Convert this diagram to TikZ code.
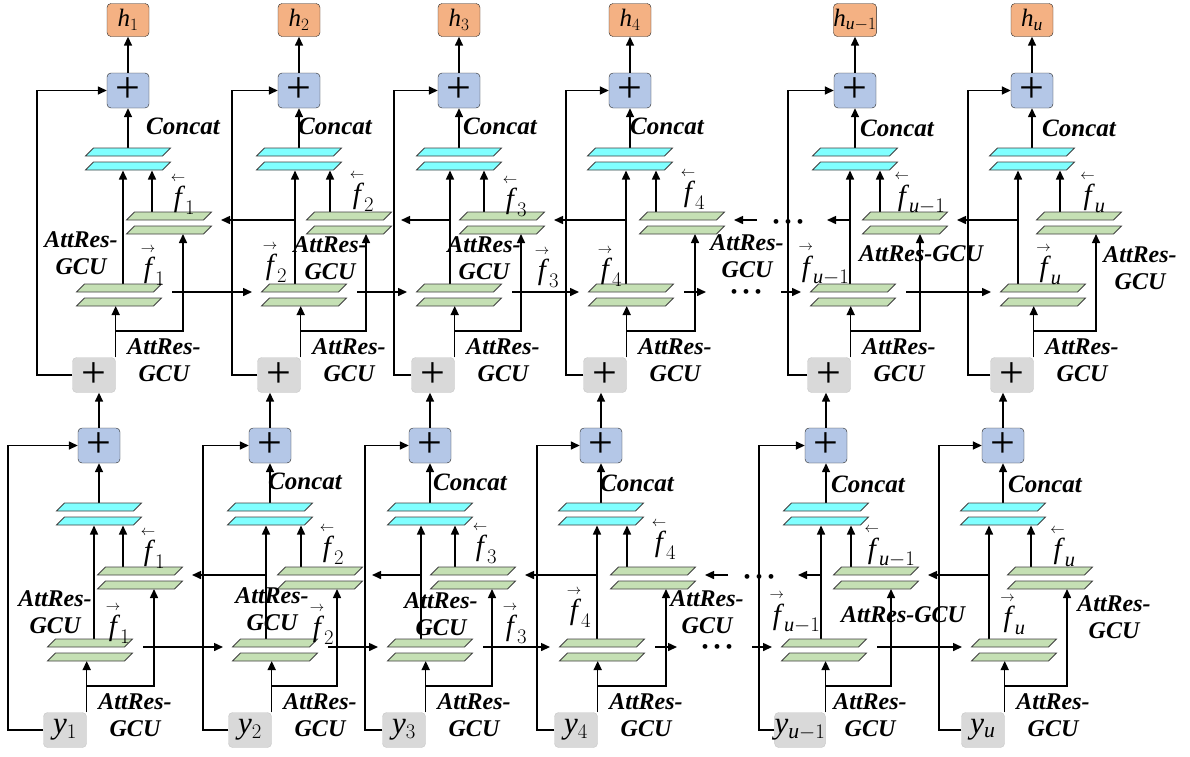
\documentclass[tikz,border=0pt]{standalone}
\usepackage{amsmath}
\usepackage{fontspec}
\setmainfont{Liberation Serif}
\usetikzlibrary{arrows.meta,calc}
\definecolor{addblue}{HTML}{B4C7E7}
\definecolor{outorange}{HTML}{F4B183}
\definecolor{ingray}{HTML}{D9D9D9}
\definecolor{plategreen}{HTML}{C5E0B4}
\definecolor{catcyan}{HTML}{80FFFF}
\tikzset{
  inbox/.style={draw=black!22,fill=ingray,rounded corners=4pt,minimum width=43pt,minimum height=35pt,inner sep=0pt},
  addbox/.style={draw=black!85,fill=addblue,rounded corners=4pt,minimum width=42pt,minimum height=35pt,inner sep=0pt},
  outbox/.style={draw=black!85,fill=outorange,rounded corners=4pt,minimum width=42pt,minimum height=33pt,inner sep=0pt},
  gplate/.style={draw=black!75,fill=plategreen,line width=0.8pt},
  cplate/.style={draw=black!75,fill=catcyan,line width=0.8pt},
  arr/.style={-{Triangle[length=9pt,width=8pt]},line width=1.5pt},
  gculab/.style={font=\fontsize{24}{27}\selectfont\bfseries\itshape,align=center,inner sep=0pt},
  catlab/.style={font=\fontsize{25}{25}\selectfont\bfseries\itshape,inner sep=0pt},
  flab/.style={font=\fontsize{29}{29}\selectfont,inner sep=0pt},
  dotrow/.style={font=\fontsize{20}{20}\selectfont,inner sep=0pt}
}
\newcommand{\plusfont}{\fontsize{44}{44}\selectfont}
\newcommand{\um}{\mathit{u}-1}
\newcommand{\uu}{\mathit{u}}
\newcommand{\fw}[1]{$\overset{\scriptscriptstyle\rightarrow}{\mathit{f}}_{#1}$}
\newcommand{\bw}[1]{$\overset{\scriptscriptstyle\leftarrow}{\mathit{f}}_{#1}$}
\newcommand{\ylab}[1]{{\fontsize{31}{31}\selectfont$\mathit{y}_{#1}$}}
\newcommand{\hlab}[1]{{\fontsize{25}{25}\selectfont$\mathit{h}_{#1}$}}
% one slab of a layer: style, centre
\newcommand{\slab}[2]{\draw[#1] ($(#2)+(-42.5,4)$) -- ++(77,0) -- ++(8,-8) -- ++(-77,0) -- cycle;}

\begin{document}
\begin{tikzpicture}[x=1pt,y=-1pt]
\useasboundingbox (0,0) rectangle (1190,756);

% two stacked Bi-AttRes-GCU layers
\foreach \row/\ddx/\ddy in {1/0/0,2/29/-355} {
  \foreach \col/\xin/\xp/\xf/\xb/\xfv/\xbv/\xbr/\xsk/\sb in {
      1/65/99/90/140/94/123/154/8/1,
      2/250/270/275/320/266/301/337/203/2,
      3/404/430/430/473/421/455/492/365/3,
      4/576/601/602/653/597/627/666/537/4,
      5/800/826/824/876/821/851/891/759/\um,
      6/983/1003/1014/1050/989/1031/1067/939/\uu} {
    \pgfmathsetmacro\yy{730+\ddy}
    \node[inbox] (in-\row-\col) at (\xin+\ddx,\yy) {\ifnum\row=1 \ylab{\sb}\else\plusfont +\fi};
    \node[addbox] (add-\row-\col) at (\xp+\ddx,\yy-284.5) {\plusfont +};
    \ifnum\row=2
      \node[outbox] (out-\col) at (\xp+\ddx,\yy-355) {\hlab{\sb}};
      \draw[arr] (add-\row-\col.north) -- (out-\col.south);
    \fi
    \coordinate (ft-\row-\col) at (\xf+\ddx,\yy-87);
    \coordinate (fl-\row-\col) at (\xf+\ddx,\yy-73);
    \coordinate (bt-\row-\col) at (\xb+\ddx,\yy-159);
    \coordinate (bl-\row-\col) at (\xb+\ddx,\yy-145);
    \coordinate (ct-\row-\col) at (\xp+\ddx,\yy-223);
    \coordinate (cl-\row-\col) at (\xp+\ddx,\yy-209);
    \coordinate (fj-\row-\col) at (\xfv+\ddx,\yy-91);
    \coordinate (bj-\row-\col) at (\xbv+\ddx,\yy-163);
    \coordinate (br-\row-\col) at (\xbr+\ddx,\yy-141);
    \coordinate (sk-\row-\col) at (\xsk+\ddx,\yy-284.5);
    \coordinate (fo-\row-\col) at (\xf+\ddx+53,\yy-83);
    \coordinate (fi-\row-\col) at (\xf+\ddx-52,\yy-83);
    \coordinate (bo-\row-\col) at (\xfv+\ddx,\yy-155);
    \coordinate (bi-\row-\col) at (\xb+\ddx+52,\yy-155);
    \draw[arr] (in-\row-\col.north east) -- ($(in-\row-\col.north east |- fl-\row-\col)+(0,4)$);
    \draw[arr] ($(in-\row-\col.north east)+(0,-26.5)$) -| (br-\row-\col);
    \draw[arr] (fj-\row-\col) -- ($(fj-\row-\col |- cl-\row-\col)+(0,4.5)$);
    \draw[arr] (bj-\row-\col) -- ($(bj-\row-\col |- cl-\row-\col)+(0,4.5)$);
    \draw[arr] ($(ct-\row-\col)+(0,-4.5)$) -- (add-\row-\col.south);
    \draw[arr] (in-\row-\col.west) -| (sk-\row-\col) -- (add-\row-\col.west);
    \slab{gplate}{ft-\row-\col}
    \slab{gplate}{fl-\row-\col}
    \slab{gplate}{bt-\row-\col}
    \slab{gplate}{bl-\row-\col}
    \slab{cplate}{ct-\row-\col}
    \slab{cplate}{cl-\row-\col}
    \node[gculab] at (\xin+\ddx+70,\yy-15) {AttRes-\\GCU};
  }
}

% between layers
\foreach \col in {1,...,6}
  \draw[arr] (add-1-\col.north) -- (add-1-\col.north |- in-2-\col.south);

% forward and backward links between cells
\foreach \row in {1,2} {
  \foreach \a/\b in {1/2,2/3,3/4,5/6} {
    \draw[arr] (fo-\row-\a) -- (fi-\row-\b);
    \draw[arr] (bo-\row-\b) -- (bi-\row-\a);
  }
  \draw[arr] (fo-\row-4) -- ++(22,0);
  \node[dotrow] (fdots-\row) at ($(fo-\row-4)+(62,2)$) {\textbullet\hspace{5pt}\textbullet\hspace{5pt}\textbullet};
  \draw[arr] ($(fi-\row-5)+(-20,0)$) -- (fi-\row-5);
  \draw[arr] (bo-\row-5) -- ++(-23,0);
  \node[dotrow] (bdots-\row) at ($(bo-\row-5)+(-62,4)$) {\textbullet\hspace{5pt}\textbullet\hspace{5pt}\textbullet};
  \draw[arr] ($(bi-\row-4)+(23,0)$) -- (bi-\row-4);
}

% labels
\foreach \x/\y in {183/126,335/126,500/126,667/126,897/128,1079/128,
                   305/481,470/482,637/483,868/484,1045/484}
  \node[catlab] at (\x,\y) {Concat};
\foreach \x/\y in {55/612,272/609,441/614,707/612,1114/617,
                   81/253,330/258,484/258,747/256,1140/268}
  \node[gculab] at (\x,\y) {AttRes-\\GCU};
\node[gculab] at (903,615) {AttRes-GCU};
\node[gculab] at (921,254) {AttRes-GCU};
\foreach \x/\y/\sb in {118/623/1,322/624/2,515/623/3,579/607/4,795/612/\um,1013/614/\uu,
                       153/265/1,275/262/2,547/267/3,610/266/4,824/264/\um,1049/264/\uu}
  \node[flab] at (\x,\y) {\fw{\sb}};
\foreach \x/\y/\sb in {153/548/1,332/544/2,485/543/3,664/539/4,890/546/\um,1063/546/\uu,
                       183/194/1,362/191/2,515/196/3,693/189/4,920/193/\um,1093/192/\uu}
  \node[flab] at (\x,\y) {\bw{\sb}};
\end{tikzpicture}
\end{document}
